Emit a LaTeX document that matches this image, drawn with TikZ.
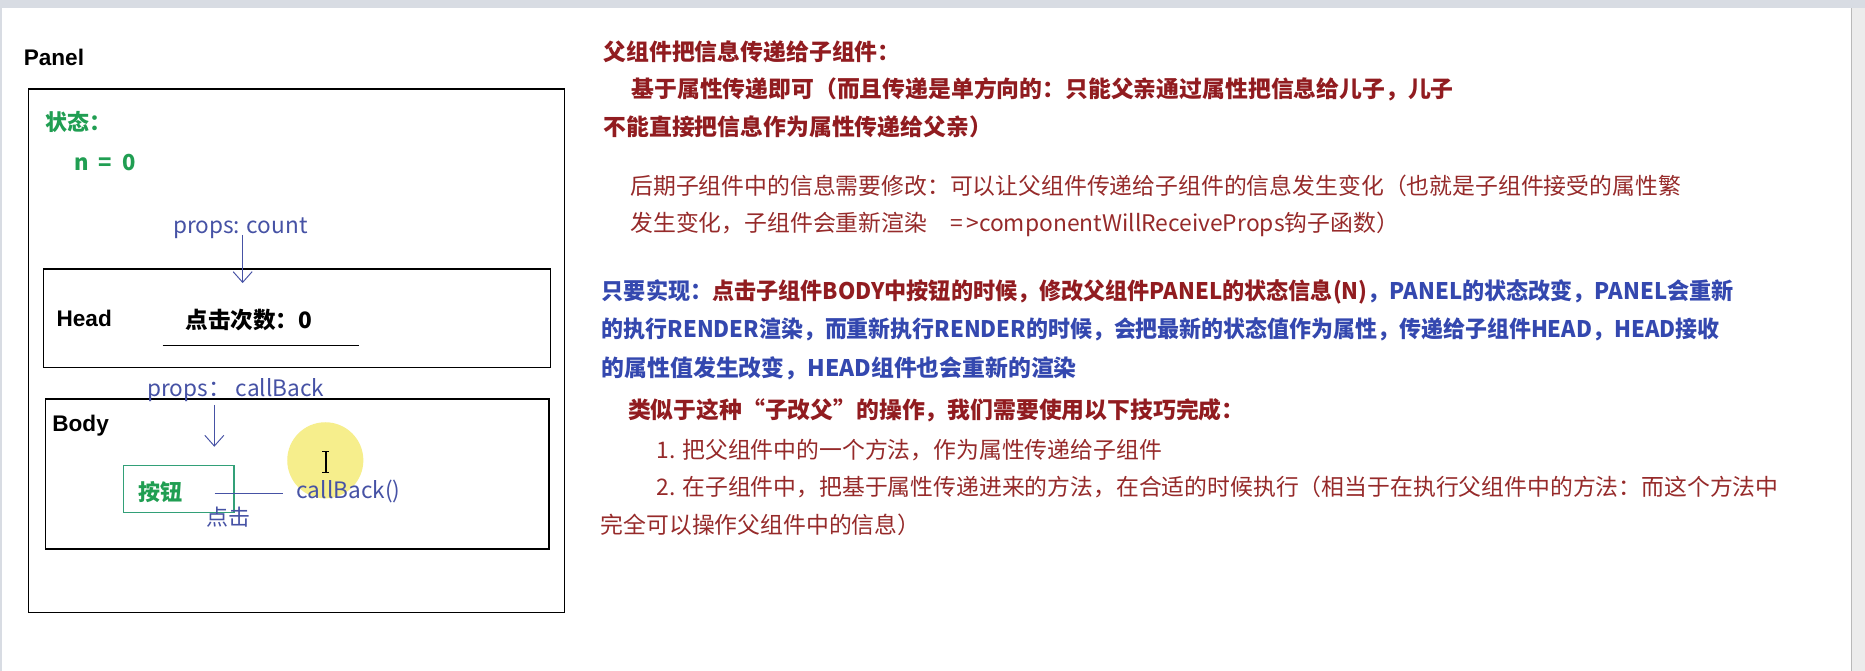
\documentclass[tikz,border=0pt]{standalone}
\usepackage{fontspec}
\usepackage{graphicx}
\setmainfont{Noto Sans CJK SC}
\newfontfamily\arialf{Liberation Sans}
\usetikzlibrary{arrows.meta}
\definecolor{dred}{RGB}{145,28,32}
\definecolor{nred}{RGB}{150,42,42}
\definecolor{bblue}{RGB}{52,72,175}
\definecolor{lblue}{RGB}{70,82,165}
\definecolor{sgreen}{RGB}{32,158,82}
\definecolor{bgreen}{RGB}{50,160,120}
\definecolor{framegray}{RGB}{216,220,227}
\definecolor{hilite}{RGB}{246,238,140}
\begin{document}
\begin{tikzpicture}[x=1pt,y=-1pt,
  txt/.style={inner sep=0pt, outer sep=0pt, anchor=base west},
  rbold/.style={txt, font=\fontsize{19.2}{23}\selectfont\bfseries, text=dred},
  rnorm/.style={txt, font=\fontsize{19.2}{23}\selectfont, text=nred},
  rblue/.style={txt, font=\fontsize{19.2}{23}\selectfont\bfseries, text=bblue},
  title/.style={txt, font=\arialf\fontsize{19}{23}\selectfont\bfseries, text=black},
  blab/.style={txt, font=\fontsize{19}{23}\selectfont, text=lblue},
  glab/.style={txt, font=\fontsize{18.5}{23}\selectfont\bfseries, text=sgreen},
  box/.style={draw=black, line width=1.2pt, inner sep=0pt, anchor=north west},
  arr/.style={draw=lblue, line width=0.8pt, -{Straight Barb[length=9pt,width=16pt,line width=0.8pt]}},
  conn/.style={draw=lblue, line width=0.8pt}
]
\useasboundingbox (0,0) rectangle (1568,564);
\fill[white] (0,0) rectangle (1568,564);
% window frame
\fill[framegray] (0,0) rectangle (1568,7);
\fill[framegray] (0,0) rectangle (2,564);
\fill[gray!15] (1556,7) rectangle (1568,564);
\draw[gray!55, line width=1pt] (1556.5,7) -- (1556.5,564);

% ---------- left diagram ----------
\node[title] (paneltitle) at (20,55.2) {Panel};
\node[box, minimum width=450.8pt, minimum height=440pt] (panel) at (23.2,74.3) {};
\node[glab] (state) at (38,109.8) {状态：};
\node[glab] (nval) at (62.7,143) {n\hspace{0.45em}=\hspace{0.45em}0};

\node[box, minimum width=426.4pt, minimum height=82.6pt] (head) at (36,225.7) {};
\node[title] (headtitle) at (47.6,274.7) {Head};
\node[txt, font=\fontsize{19}{23}\selectfont\bfseries, text=black] (clicks) at (156,276) {点击次数：0};
\coordinate (ulA) at (136.7,290.6);
\coordinate (ulB) at (301.5,290.6);
\draw[black, line width=1pt] (ulA) -- (ulB);

\node[blab] (propscount) at (145.5,196) {props: count};
\coordinate (a1s) at (204,197.5);
\coordinate (a1e) at (204,238);
\draw[arr] (a1s) -- (a1e);

\node[box, minimum width=423.4pt, minimum height=126pt] (body) at (37.6,335) {};
\node[title] (bodytitle) at (44,363) {Body};
\node[blab] (propscb) at (123.8,333.5) {props：\ callBack};
\coordinate (a2s) at (180.2,340.5);
\coordinate (a2e) at (180.2,375.6);
\draw[arr] (a2s) -- (a2e);

% highlight and cursor
\fill[hilite] (273.5,387) circle (32);
\draw[black, line width=1.1pt] (274,379.5) -- (274,397.5);
\draw[black, line width=0.9pt] (271,379.5) -- (277,379.5) (271,397.5) -- (277,397.5);

\node[draw=bgreen, line width=1pt, inner sep=0pt, anchor=north west, minimum width=92.7pt, minimum height=39.2pt] (btn) at (103.6,391) {};
\node[txt, font=\fontsize{18.5}{23}\selectfont\bfseries, text=sgreen] (btntext) at (116.5,421) {按钮};
\node[blab] (cbcall) at (249.4,418.7) {callBack()};
\coordinate (lnA) at (180.5,414.5);
\coordinate (lnB) at (237.7,414.5);
\draw[conn] (lnA) -- (lnB);
\node[blab, font=\fontsize{18.5}{23}\selectfont] (click) at (173.8,442) {点击};

% ---------- right text ----------
\node[rbold] (l1) at (507.5,51.1) {父组件把信息传递给子组件：};
\node[rbold] (l2) at (531,82.1) {基于属性传递即可（而且传递是单方向的：只能父亲通过属性把信息给儿子，儿子};
\node[rbold] (l3) at (507.5,113.6) {不能直接把信息作为属性传递给父亲）};
\node[rnorm] (l4) at (530,163.6) {后期子组件中的信息需要修改：可以让父组件传递给子组件的信息发生变化（也就是子组件接受的属性繁};
\node[rnorm] (l5) at (530,194.6) {发生变化，子组件会重新渲染\hspace{1em}=\kern3pt>componentWillReceiveProps钩子函数）};
\node[rbold] (l6) at (506,252.1) {\scalebox{0.968}[1]{{\color{bblue}只要实现：}点击子组件BODY中按钮的时候，修改父组件PANEL的状态信息(N){\color{bblue}，PANEL的状态改变，PANEL会重新}}};
\node[rblue] (l7) at (506,284.1) {\scalebox{0.961}[1]{的执行RENDER渲染，而重新执行RENDER的时候，会把最新的状态值作为属性，传递给子组件HEAD，HEAD接收}};
\node[rblue] (l8) at (506,316.6) {的属性值发生改变，HEAD组件也会重新的渲染};
\node[rbold] (l9) at (528,351.6) {类似于这种“子改父”的操作，我们需要使用以下技巧完成：};
\node[rnorm] (l10) at (552,385.4) {1. 把父组件中的一个方法，作为属性传递给子组件};
\node[rnorm] (l11) at (552,416.6) {2. 在子组件中，把基于属性传递进来的方法，在合适的时候执行（相当于在执行父组件中的方法：而这个方法中};
\node[rnorm] (l12) at (505,448.5) {完全可以操作父组件中的信息）};
\end{tikzpicture}
\end{document}
